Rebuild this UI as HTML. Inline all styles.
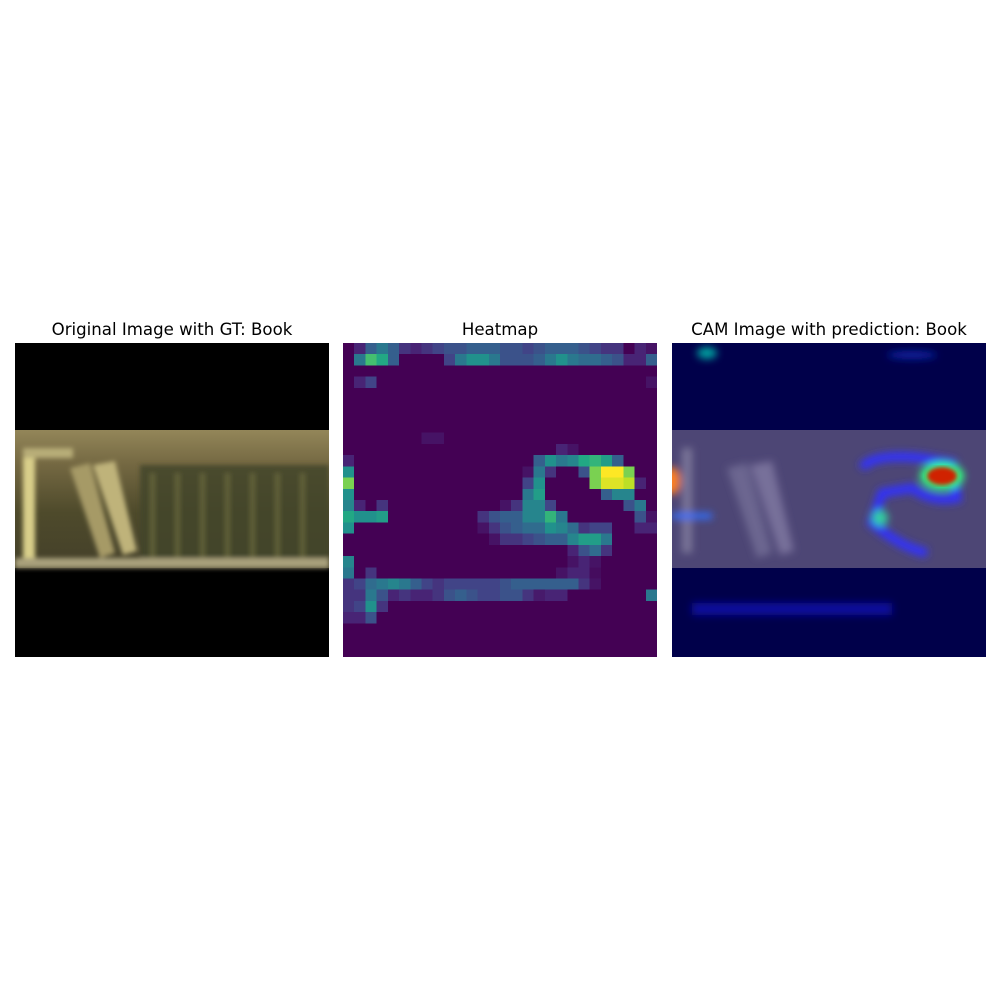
<!DOCTYPE html>
<html><head><meta charset="utf-8"><style>
body{margin:0;background:#fff;width:1000px;height:1000px;overflow:hidden;font-family:"DejaVu Sans","Liberation Sans",sans-serif}
.t{position:absolute;top:320px;font-size:16.6px;color:#000;text-align:center;width:340px;white-space:nowrap}
</style></head><body>
<div class="t" style="left:2px">Original Image with GT: Book</div>
<div class="t" style="left:330px">Heatmap</div>
<div class="t" style="left:659px">CAM Image with prediction: Book</div>

<svg style="position:absolute;left:15px;top:343px" width="314" height="314">
<defs>
<linearGradient id="shelf" x1="0" y1="0" x2="0" y2="1"><stop offset="0" stop-color="#938659"/><stop offset="0.25" stop-color="#746842"/><stop offset="0.6" stop-color="#4e4a2b"/><stop offset="1" stop-color="#44402a"/></linearGradient>
<filter id="bl"><feGaussianBlur stdDeviation="2.5"/></filter>
</defs>
<rect width="314" height="314" fill="#000"/>
<rect y="87" width="314" height="138" fill="url(#shelf)"/>
<g filter="url(#bl)">
<rect x="125" y="122" width="189" height="95" fill="#434528" opacity="0.85"/>
<g fill="#6d6c40" opacity="0.7">
<rect x="135" y="130" width="5" height="85"/><rect x="160" y="130" width="5" height="85"/><rect x="185" y="130" width="5" height="85"/><rect x="210" y="130" width="5" height="85"/><rect x="235" y="130" width="5" height="85"/><rect x="260" y="130" width="5" height="85"/><rect x="285" y="130" width="5" height="85"/>
</g>
<rect x="8" y="105" width="12" height="110" fill="#d9cf8a"/>
<rect x="8" y="105" width="50" height="10" fill="#b8ad78"/>
<polygon points="55,125 75,120 100,210 85,215" fill="#a69a66"/>
<polygon points="78,122 100,118 122,208 108,212" fill="#bfb37a"/>
<rect x="0" y="215" width="314" height="10" fill="#a9a07c"/>
</g>
</svg>

<svg id="hm" style="position:absolute;left:343px;top:343px" width="314" height="314" shape-rendering="crispEdges"></svg>

<svg style="position:absolute;left:672px;top:343px" width="314" height="314">
<defs><filter id="b2"><feGaussianBlur stdDeviation="4"/></filter><filter id="b3"><feGaussianBlur stdDeviation="2"/></filter></defs>
<rect width="314" height="314" fill="#00004a"/>
<rect y="87" width="314" height="138" fill="#4d4675"/>
<g filter="url(#b2)">
<rect x="10" y="105" width="10" height="105" fill="#7a7698"/>
<polygon points="55,125 75,120 100,210 85,215" fill="#6c6690"/>
<polygon points="78,122 100,118 122,208 108,212" fill="#77709a"/>
<ellipse cx="35" cy="10" rx="10" ry="6" fill="#00a0a0"/>
<ellipse cx="240" cy="12" rx="25" ry="4" fill="#1020a0"/>
<path d="M190,125 Q200,110 250,115 L280,120 L285,155 Q260,160 240,145 L210,150 L200,180 Q230,205 255,210" stroke="#3030ff" stroke-width="9" fill="none"/>
<ellipse cx="270" cy="133" rx="22" ry="14" fill="#30ff80"/>
<ellipse cx="208" cy="175" rx="8" ry="8" fill="#30d0a0"/>
<ellipse cx="0" cy="138" rx="8" ry="14" fill="#ff8020"/>
<rect x="0" y="170" width="40" height="6" fill="#3070ff"/>
<rect x="20" y="260" width="200" height="12" fill="#0a10a0"/>
</g>
<ellipse cx="270" cy="133" rx="15" ry="9" fill="#d02000" filter="url(#b3)"/>
<rect x="0" y="225" width="314" height="3" fill="#00004a"/>
</svg>

<script>
const rows = 28, cols = 28;
const heatValues = [
[0,1,3,4,3,1.5,1,1.5,2,2.5,2.5,3,3,3,2.5,2.5,2,2.5,3,3,3,2.5,2,1.5,1.5,0,1,0.5],
[0,4,7,6,3,0,0,0,0,2,4,5,5,4,2.5,2.5,2.5,3,4,5,4,3.5,3.5,3,2.5,1,1,3],
[0,0,0,0,0,0,0,0,0,0,0,0,0,0,0,0,0,0,0,0,0,0,0,0,0,0,0,0],
[0,1,2,0,0,0,0,0,0,0,0,0,0,0,0,0,0,0,0,0,0,0,0,0,0,0,0,0.5],
[0,0,0,0,0,0,0,0,0,0,0,0,0,0,0,0,0,0,0,0,0,0,0,0,0,0,0,0],
[0,0,0,0,0,0,0,0,0,0,0,0,0,0,0,0,0,0,0,0,0,0,0,0,0,0,0,0],
[0,0,0,0,0,0,0,0,0,0,0,0,0,0,0,0,0,0,0,0,0,0,0,0,0,0,0,0],
[0,0,0,0,0,0,0,0,0,0,0,0,0,0,0,0,0,0,0,0,0,0,0,0,0,0,0,0],
[0,0,0,0,0,0,0,0.5,0.5,0,0,0,0,0,0,0,0,0,0,0,0,0,0,0,0,0,0,0],
[0,0,0,0,0,0,0,0,0,0,0,0,0,0,0,0,0,0,0,1,0.5,0,0,0,0,0,0,0],
[1,0,0,0,0,0,0,0,0,0,0,0,0,0,0,0,0,3,5,4,4.5,6,6.5,5.5,3,0,0,0],
[5,0,0,0,0,0,0,0,0,0,0,0,0,0,0,0,0.5,4,1.5,0,0,2.5,8,10,10,8,0,0],
[8,0,0,0,0,0,0,0,0,0,0,0,0,0,0,0,2,5,0,0,0,0,8,9.5,9.5,9,1,0],
[5,0,0,0,0,0,0,0,0,0,0,0,0,0,0,0,4,5.5,0,0,0,0,0,3,4.5,4.5,0,0],
[4.5,1,0,1.5,0,0,0,0,0,0,0,0,0,0,0.5,1.5,4.5,4.5,2,0,0,0,0,0,0,2.5,4,0],
[6,5,5,5.5,0,0,0,0,0,0,0,0,1.5,2.5,3,3,4.5,4.5,6.5,4,0,0,0,0,0,0,2.5,0.5],
[5,0,0,0,0,0,0,0,0,0,0,0,0.5,1.5,2.5,3,3.5,3.5,5,4.5,3.5,1.5,2,2,0,0,1,1],
[0,0,0,0,0,0,0,0,0,0,0,0,0,0.5,1.5,1.5,2,2.5,3,3,4.5,5.5,5.5,4,0,0,0,0],
[0,0,0,0,0,0,0,0,0,0,0,0,0,0,0,0,0,0,0,0,1,2.5,3.5,1.5,0,0,0,0],
[4.5,0,0,0,0,0,0,0,0,0,0,0,0,0,0,0,0,0,0,0,0.5,1,0.5,0,0,0,0,0],
[4,0,1.5,0,0,0,0,0,0,0,0,0,0,0,0,0,0,0,0,0.5,1,1,0.3,0,0,0,0,0],
[1.5,2,3.5,4,4.5,4,3,2,1.5,2,2,2,2,2,2.5,3,3,3,3,3,3,1.5,0.5,0,0,0,0,0],
[1.5,1.5,4,2.5,1,1.5,1,1,1.5,2.5,3,2.5,2,2,2.5,2.5,1.5,0.7,1,1,0,0,0,0,0,0,0,4],
[1.5,2,5,1.5,0,0,0,0,0,0,0,0,0,0,0,0,0,0,0,0,0,0,0,0,0,0,0,0],
[1,1,2.5,0,0,0,0,0,0,0,0,0,0,0,0,0,0,0,0,0,0,0,0,0,0,0,0,0],
[0,0,0,0,0,0,0,0,0,0,0,0,0,0,0,0,0,0,0,0,0,0,0,0,0,0,0,0],
[0,0,0,0,0,0,0,0,0,0,0,0,0,0,0,0,0,0,0,0,0,0,0,0,0,0,0,0],
[0,0,0,0,0,0,0,0,0,0,0,0,0,0,0,0,0,0,0,0,0,0,0,0,0,0,0,0]
];
const vmin = 0, vmax = 10;
const VIR = [[68,1,84],[72,36,117],[65,68,135],[53,95,141],[42,120,142],[33,145,140],[34,168,132],[68,191,112],[122,209,81],[189,223,38],[253,231,37]];
function viridis(v){
  let t = Math.max(0, Math.min(1, (v - vmin) / (vmax - vmin))) * 10;
  const i = Math.min(9, Math.floor(t)), f = t - i;
  const a = VIR[i], b = VIR[i+1];
  return 'rgb(' + a.map((c,k)=>Math.round(c + (b[k]-c)*f)).join(',') + ')';
}
const W = 314, H = 314;
function xScale(c){ return c * W / cols; }
function yScale(r){ return r * H / rows; }
const svg = document.getElementById('hm');
const NS = 'http://www.w3.org/2000/svg';
heatValues.forEach((row, r) => row.forEach((v, c) => {
  const el = document.createElementNS(NS, 'rect');
  el.setAttribute('x', xScale(c));
  el.setAttribute('y', yScale(r));
  el.setAttribute('width', xScale(c+1) - xScale(c) + 0.3);
  el.setAttribute('height', yScale(r+1) - yScale(r) + 0.3);
  el.setAttribute('fill', viridis(v));
  
  
  svg.appendChild(el);
}));
</script>
</body></html>
